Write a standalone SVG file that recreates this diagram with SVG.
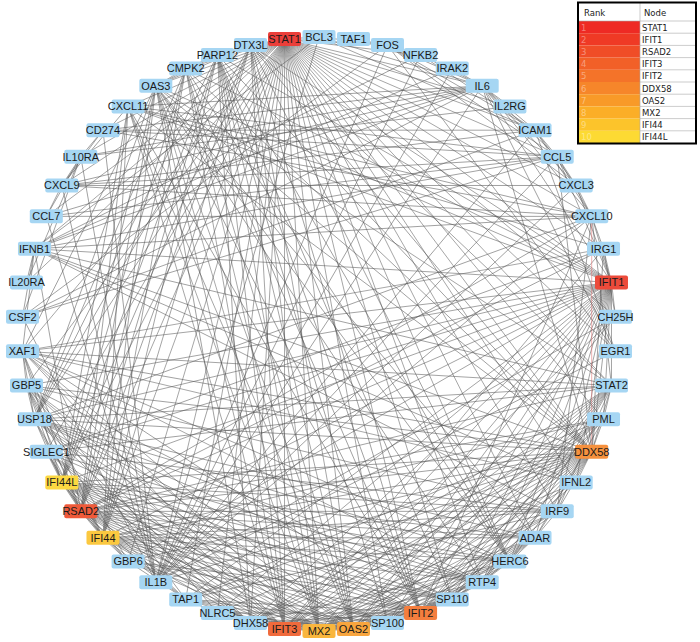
<svg xmlns="http://www.w3.org/2000/svg" width="700" height="642" viewBox="0 0 700 642">
<style>
.e{stroke:#555;stroke-width:.5;fill:none}
.n rect{fill:#a6d6f3}
.n text{font-family:"Liberation Sans",Arial,sans-serif;font-size:11px;fill:#1a1a1a;text-anchor:middle}
.lg text{font-family:"DejaVu Sans",Verdana,sans-serif;font-size:8.5px;fill:#222}
.lg .r{fill:#fff;fill-opacity:.4}
</style>
<defs>
<line id="c1" x1="297" y1="0" x2="295" y2="34.48"/>
<line id="c2" x1="297" y1="0" x2="289" y2="68.49"/>
<line id="c3" x1="297" y1="0" x2="279.09" y2="101.58"/>
<line id="c4" x1="297" y1="0" x2="265.41" y2="133.29"/>
<line id="c5" x1="297" y1="0" x2="248.14" y2="163.2"/>
<line id="c6" x1="297" y1="0" x2="227.51" y2="190.91"/>
<line id="c7" x1="297" y1="0" x2="203.81" y2="216.03"/>
<line id="c8" x1="297" y1="0" x2="177.36" y2="238.23"/>
<line id="c9" x1="297" y1="0" x2="148.5" y2="257.21"/>
<line id="c10" x1="297" y1="0" x2="117.64" y2="272.71"/>
<line id="c11" x1="297" y1="0" x2="85.18" y2="284.52"/>
<line id="c12" x1="297" y1="0" x2="51.57" y2="292.49"/>
<line id="c13" x1="297" y1="0" x2="17.27" y2="296.5"/>
<line id="c14" x1="297" y1="0" x2="-17.27" y2="296.5"/>
<line id="c15" x1="297" y1="0" x2="-51.57" y2="292.49"/>
<line id="c16" x1="297" y1="0" x2="-85.18" y2="284.52"/>
<line id="c17" x1="297" y1="0" x2="-117.64" y2="272.71"/>
<line id="c18" x1="297" y1="0" x2="-148.5" y2="257.21"/>
<line id="c19" x1="297" y1="0" x2="-177.36" y2="238.23"/>
<line id="c20" x1="297" y1="0" x2="-203.81" y2="216.03"/>
<line id="c21" x1="297" y1="0" x2="-227.51" y2="190.91"/>
<line id="c22" x1="297" y1="0" x2="-248.14" y2="163.2"/>
<line id="c23" x1="297" y1="0" x2="-265.41" y2="133.29"/>
<line id="c24" x1="297" y1="0" x2="-279.09" y2="101.58"/>
<line id="c25" x1="297" y1="0" x2="-289" y2="68.49"/>
<line id="c26" x1="297" y1="0" x2="-295" y2="34.48"/>
<line id="c27" x1="297" y1="0" x2="-297" y2="0"/>
<line id="c28" x1="297" y1="0" x2="-295" y2="-34.48"/>
<line id="c29" x1="297" y1="0" x2="-289" y2="-68.49"/>
<line id="c30" x1="297" y1="0" x2="-279.09" y2="-101.58"/>
<line id="c31" x1="297" y1="0" x2="-265.41" y2="-133.29"/>
<line id="c32" x1="297" y1="0" x2="-248.14" y2="-163.2"/>
<line id="c33" x1="297" y1="0" x2="-227.51" y2="-190.91"/>
<line id="c34" x1="297" y1="0" x2="-203.81" y2="-216.03"/>
<line id="c35" x1="297" y1="0" x2="-177.36" y2="-238.23"/>
<line id="c36" x1="297" y1="0" x2="-148.5" y2="-257.21"/>
<line id="c37" x1="297" y1="0" x2="-117.64" y2="-272.71"/>
<line id="c38" x1="297" y1="0" x2="-85.18" y2="-284.52"/>
<line id="c39" x1="297" y1="0" x2="-51.57" y2="-292.49"/>
<line id="c40" x1="297" y1="0" x2="-17.27" y2="-296.5"/>
<line id="c41" x1="297" y1="0" x2="17.27" y2="-296.5"/>
<line id="c42" x1="297" y1="0" x2="51.57" y2="-292.49"/>
<line id="c43" x1="297" y1="0" x2="85.18" y2="-284.52"/>
<line id="c44" x1="297" y1="0" x2="117.64" y2="-272.71"/>
<line id="c45" x1="297" y1="0" x2="148.5" y2="-257.21"/>
<line id="c46" x1="297" y1="0" x2="177.36" y2="-238.23"/>
<line id="c47" x1="297" y1="0" x2="203.81" y2="-216.03"/>
<line id="c48" x1="297" y1="0" x2="227.51" y2="-190.91"/>
<line id="c49" x1="297" y1="0" x2="248.14" y2="-163.2"/>
<line id="c50" x1="297" y1="0" x2="265.41" y2="-133.29"/>
<line id="c51" x1="297" y1="0" x2="279.09" y2="-101.58"/>
<line id="c52" x1="297" y1="0" x2="289" y2="-68.49"/>
<line id="c53" x1="297" y1="0" x2="295" y2="-34.48"/>
</defs>
<rect width="700" height="642" fill="#fff"/>
<g id="edges" class="e">
<g transform="translate(319 334) rotate(-96.67)"><use href="#c1"/><use href="#c3"/><use href="#c4"/><use href="#c6"/><use href="#c7"/><use href="#c8"/><use href="#c9"/><use href="#c10"/><use href="#c11"/><use href="#c12"/><use href="#c13"/><use href="#c14"/><use href="#c15"/><use href="#c16"/><use href="#c17"/><use href="#c18"/><use href="#c19"/><use href="#c20"/><use href="#c21"/><use href="#c22"/><use href="#c23"/><use href="#c24"/><use href="#c25"/><use href="#c26"/><use href="#c27"/><use href="#c28"/><use href="#c29"/><use href="#c30"/><use href="#c31"/><use href="#c32"/><use href="#c33"/><use href="#c34"/><use href="#c35"/><use href="#c36"/><use href="#c37"/><use href="#c38"/><use href="#c39"/><use href="#c40"/><use href="#c41"/><use href="#c43"/><use href="#c44"/><use href="#c45"/><use href="#c46"/><use href="#c47"/><use href="#c48"/><use href="#c49"/><use href="#c50"/><use href="#c51"/><use href="#c52"/><use href="#c53"/></g>
<g transform="translate(319 334) rotate(-10)"><use href="#c52"/><use href="#c53"/><use href="#c1"/><use href="#c3"/><use href="#c4"/><use href="#c5"/><use href="#c6"/><use href="#c7"/><use href="#c8"/><use href="#c9"/><use href="#c10"/><use href="#c11"/><use href="#c12"/><use href="#c13"/><use href="#c14"/><use href="#c15"/><use href="#c16"/><use href="#c17"/><use href="#c18"/><use href="#c19"/><use href="#c21"/><use href="#c22"/><use href="#c23"/><use href="#c24"/><use href="#c25"/><use href="#c26"/><use href="#c27"/><use href="#c28"/><use href="#c31"/><use href="#c36"/><use href="#c37"/><use href="#c38"/><use href="#c39"/><use href="#c40"/><use href="#c47"/><use href="#c50"/><use href="#c51"/></g>
<g transform="translate(319 334) rotate(143.33)"><use href="#c29"/><use href="#c30"/><use href="#c34"/><use href="#c35"/><use href="#c36"/><use href="#c38"/><use href="#c39"/><use href="#c40"/><use href="#c41"/><use href="#c42"/><use href="#c43"/><use href="#c44"/><use href="#c45"/><use href="#c46"/><use href="#c47"/><use href="#c48"/><use href="#c50"/><use href="#c52"/><use href="#c53"/><use href="#c1"/><use href="#c2"/><use href="#c3"/><use href="#c4"/><use href="#c5"/><use href="#c8"/><use href="#c13"/><use href="#c14"/><use href="#c15"/><use href="#c16"/><use href="#c17"/></g>
<g transform="translate(319 334) rotate(96.67)"><use href="#c37"/><use href="#c39"/><use href="#c41"/><use href="#c42"/><use href="#c43"/><use href="#c45"/><use href="#c46"/><use href="#c47"/><use href="#c48"/><use href="#c49"/><use href="#c50"/><use href="#c51"/><use href="#c52"/><use href="#c53"/><use href="#c1"/><use href="#c2"/><use href="#c3"/><use href="#c5"/><use href="#c6"/><use href="#c8"/><use href="#c9"/><use href="#c10"/><use href="#c11"/><use href="#c12"/><use href="#c20"/><use href="#c21"/><use href="#c22"/><use href="#c23"/><use href="#c24"/></g>
<g transform="translate(319 334) rotate(70)"><use href="#c40"/><use href="#c45"/><use href="#c46"/><use href="#c47"/><use href="#c48"/><use href="#c49"/><use href="#c50"/><use href="#c51"/><use href="#c52"/><use href="#c53"/><use href="#c1"/><use href="#c2"/><use href="#c3"/><use href="#c5"/><use href="#c6"/><use href="#c7"/><use href="#c9"/><use href="#c10"/><use href="#c12"/><use href="#c13"/><use href="#c14"/><use href="#c16"/><use href="#c24"/><use href="#c25"/><use href="#c26"/><use href="#c27"/><use href="#c28"/></g>
<g transform="translate(319 334) rotate(23.33)"><use href="#c47" stroke="#e07070"/><use href="#c48"/><use href="#c52"/><use href="#c53"/><use href="#c1"/><use href="#c2"/><use href="#c3"/><use href="#c4"/><use href="#c5"/><use href="#c6"/><use href="#c8"/><use href="#c9"/><use href="#c10"/><use href="#c12"/><use href="#c13"/><use href="#c14"/><use href="#c16"/><use href="#c17"/><use href="#c19"/><use href="#c21"/><use href="#c22"/><use href="#c23"/><use href="#c26"/><use href="#c31"/><use href="#c32"/><use href="#c33"/><use href="#c34"/><use href="#c35"/><use href="#c42"/><use href="#c15"/><use href="#c45"/></g>
<g transform="translate(319 334) rotate(83.33)"><use href="#c41"/><use href="#c43"/><use href="#c44"/><use href="#c47"/><use href="#c48"/><use href="#c49"/><use href="#c50"/><use href="#c51"/><use href="#c53"/><use href="#c1"/><use href="#c3"/><use href="#c4"/><use href="#c5"/><use href="#c7"/><use href="#c8"/><use href="#c10"/><use href="#c12"/><use href="#c13"/><use href="#c14"/><use href="#c22"/><use href="#c23"/><use href="#c24"/><use href="#c25"/><use href="#c26"/></g>
<g transform="translate(319 334) rotate(90)"><use href="#c42"/><use href="#c43"/><use href="#c45"/><use href="#c46"/><use href="#c47"/><use href="#c48"/><use href="#c49"/><use href="#c50"/><use href="#c52"/><use href="#c2"/><use href="#c4"/><use href="#c6"/><use href="#c7"/><use href="#c9"/><use href="#c10"/><use href="#c11"/><use href="#c12"/><use href="#c13"/><use href="#c21"/><use href="#c22"/><use href="#c23"/><use href="#c24"/><use href="#c25"/></g>
<g transform="translate(319 334) rotate(136.67)"><use href="#c36"/><use href="#c39"/><use href="#c40"/><use href="#c41"/><use href="#c42"/><use href="#c43"/><use href="#c45"/><use href="#c49"/><use href="#c51"/><use href="#c53"/><use href="#c2"/><use href="#c3"/><use href="#c4"/><use href="#c5"/><use href="#c6"/><use href="#c14"/><use href="#c15"/><use href="#c16"/><use href="#c17"/><use href="#c18"/></g>
<g transform="translate(319 334) rotate(150)"><use href="#c37"/><use href="#c38"/><use href="#c39"/><use href="#c40"/><use href="#c41"/><use href="#c43"/><use href="#c47"/><use href="#c49"/><use href="#c51"/><use href="#c1"/><use href="#c2"/><use href="#c3"/><use href="#c4"/><use href="#c12"/><use href="#c13"/><use href="#c14"/><use href="#c15"/><use href="#c16"/></g>
<g transform="translate(319 334) rotate(-56.67)"><use href="#c49"/><use href="#c51"/><use href="#c52"/><use href="#c1"/><use href="#c2"/><use href="#c3"/><use href="#c4"/><use href="#c5"/><use href="#c9"/><use href="#c27"/><use href="#c36"/><use href="#c39"/><use href="#c40"/><use href="#c41"/><use href="#c42"/><use href="#c38"/><use href="#c53"/><use href="#c43"/></g>
<g transform="translate(319 334) rotate(123.33)"><use href="#c22"/><use href="#c24"/><use href="#c25"/><use href="#c29"/><use href="#c30"/><use href="#c31"/><use href="#c32"/><use href="#c36"/><use href="#c9"/><use href="#c12"/><use href="#c13"/><use href="#c14"/><use href="#c15"/><use href="#c26"/><use href="#c35"/></g>
<g transform="translate(319 334) rotate(-36.67)"><use href="#c53"/><use href="#c1"/><use href="#c2"/><use href="#c36"/><use href="#c37"/><use href="#c40"/><use href="#c39"/><use href="#c35"/><use href="#c33"/><use href="#c48"/></g>
<g transform="translate(319 334) rotate(-23.33)"><use href="#c35"/><use href="#c38"/><use href="#c34"/><use href="#c37"/><use href="#c33"/><use href="#c53"/><use href="#c51"/><use href="#c1"/><use href="#c5"/><use href="#c9"/><use href="#c28"/></g>
<g transform="translate(319 334) rotate(210)"><use href="#c3"/><use href="#c2"/><use href="#c53"/><use href="#c18"/><use href="#c16"/><use href="#c1"/></g>
<g transform="translate(319 334) rotate(196.67)"><use href="#c26"/><use href="#c30"/><use href="#c29"/><use href="#c11"/><use href="#c14"/><use href="#c15"/><use href="#c53"/><use href="#c51"/><use href="#c52"/></g>
<g transform="translate(319 334) rotate(-43.33)"><use href="#c2"/><use href="#c7"/><use href="#c49"/><use href="#c50"/><use href="#c47"/><use href="#c40"/><use href="#c34"/></g>
<g transform="translate(319 334) rotate(-76.67)"><use href="#c12"/><use href="#c52"/><use href="#c1"/><use href="#c53"/><use href="#c7"/><use href="#c39"/></g>
<g transform="translate(319 334) rotate(216.67)"><use href="#c50"/><use href="#c14"/><use href="#c1"/><use href="#c49"/><use href="#c52"/></g>
<g transform="translate(319 334) rotate(10)"><use href="#c4"/><use href="#c1"/><use href="#c23"/><use href="#c6"/><use href="#c7"/><use href="#c8"/><use href="#c10"/><use href="#c14"/><use href="#c25"/><use href="#c34"/><use href="#c37"/></g>
<g transform="translate(319 334) rotate(163.33)"><use href="#c11"/><use href="#c12"/><use href="#c13"/><use href="#c14"/><use href="#c2"/><use href="#c1"/><use href="#c37"/><use href="#c38"/><use href="#c45"/><use href="#c39"/><use href="#c36"/></g>
<g transform="translate(319 334) rotate(236.67)"><use href="#c1"/><use href="#c2"/><use href="#c3"/><use href="#c26"/><use href="#c27"/><use href="#c25"/><use href="#c34"/><use href="#c45"/></g>
<g transform="translate(319 334) rotate(250)"><use href="#c1"/><use href="#c53"/><use href="#c24"/><use href="#c26"/><use href="#c28"/><use href="#c32"/></g>
<g transform="translate(319 334) rotate(43.33)"><use href="#c1"/><use href="#c2"/><use href="#c3"/><use href="#c5"/><use href="#c53"/><use href="#c50"/></g>
<g transform="translate(319 334) rotate(50)"><use href="#c1"/><use href="#c2"/><use href="#c8"/><use href="#c19"/><use href="#c29"/><use href="#c31"/></g>
<g transform="translate(319 334) rotate(63.33)"><use href="#c2"/><use href="#c47"/><use href="#c53"/><use href="#c16"/><use href="#c10"/></g>
<g transform="translate(319 334) rotate(116.67)"><use href="#c53"/><use href="#c2"/><use href="#c8"/><use href="#c39"/><use href="#c42"/><use href="#c48"/></g>
<g transform="translate(319 334) rotate(176.67)"><use href="#c53"/><use href="#c36"/><use href="#c25"/><use href="#c32"/></g>
<g transform="translate(319 334) rotate(-16.67)"><use href="#c2"/><use href="#c37"/><use href="#c26"/></g>
<g transform="translate(319 334) rotate(170)"><use href="#c48"/><use href="#c45"/><use href="#c34"/></g>
<g transform="translate(319 334) rotate(156.67)"><use href="#c36"/><use href="#c39"/><use href="#c32"/><use href="#c46"/></g>
<g transform="translate(319 334) rotate(103.33)"><use href="#c1"/><use href="#c43"/><use href="#c41"/></g>
</g>
<g id="nodes">
<g id="n-STAT1" class="n" transform="translate(284.52 39)"><rect x="-16.5" y="-7" width="33" height="14" rx="2" style="fill:#eb3f3a"/><text y="3.9">STAT1</text></g>
<g id="n-BCL3" class="n" transform="translate(319 37)"><rect x="-16.5" y="-7" width="33" height="14" rx="2"/><text y="3.9">BCL3</text></g>
<g id="n-TAF1" class="n" transform="translate(353.48 39)"><rect x="-16.5" y="-7" width="33" height="14" rx="2"/><text y="3.9">TAF1</text></g>
<g id="n-FOS" class="n" transform="translate(387.49 45)"><rect x="-16.5" y="-7" width="33" height="14" rx="2"/><text y="3.9">FOS</text></g>
<g id="n-NFKB2" class="n" transform="translate(420.58 54.91)"><rect x="-16.5" y="-7" width="33" height="14" rx="2"/><text y="3.9">NFKB2</text></g>
<g id="n-IRAK2" class="n" transform="translate(452.29 68.59)"><rect x="-16.5" y="-7" width="33" height="14" rx="2"/><text y="3.9">IRAK2</text></g>
<g id="n-IL6" class="n" transform="translate(482.2 85.86)"><rect x="-16.5" y="-7" width="33" height="14" rx="2"/><text y="3.9">IL6</text></g>
<g id="n-IL2RG" class="n" transform="translate(509.91 106.49)"><rect x="-16.5" y="-7" width="33" height="14" rx="2"/><text y="3.9">IL2RG</text></g>
<g id="n-ICAM1" class="n" transform="translate(535.03 130.19)"><rect x="-16.5" y="-7" width="33" height="14" rx="2"/><text y="3.9">ICAM1</text></g>
<g id="n-CCL5" class="n" transform="translate(557.23 156.64)"><rect x="-16.5" y="-7" width="33" height="14" rx="2"/><text y="3.9">CCL5</text></g>
<g id="n-CXCL3" class="n" transform="translate(576.21 185.5)"><rect x="-16.5" y="-7" width="33" height="14" rx="2"/><text y="3.9">CXCL3</text></g>
<g id="n-CXCL10" class="n" transform="translate(591.71 216.36)"><rect x="-16.5" y="-7" width="33" height="14" rx="2"/><text y="3.9">CXCL10</text></g>
<g id="n-IRG1" class="n" transform="translate(603.52 248.82)"><rect x="-16.5" y="-7" width="33" height="14" rx="2"/><text y="3.9">IRG1</text></g>
<g id="n-IFIT1" class="n" transform="translate(611.49 282.43)"><rect x="-16.5" y="-7" width="33" height="14" rx="2" style="fill:#ec4a3a"/><text y="3.9">IFIT1</text></g>
<g id="n-CH25H" class="n" transform="translate(615.5 316.73)"><rect x="-16.5" y="-7" width="33" height="14" rx="2"/><text y="3.9">CH25H</text></g>
<g id="n-EGR1" class="n" transform="translate(615.5 351.27)"><rect x="-16.5" y="-7" width="33" height="14" rx="2"/><text y="3.9">EGR1</text></g>
<g id="n-STAT2" class="n" transform="translate(611.49 385.57)"><rect x="-16.5" y="-7" width="33" height="14" rx="2"/><text y="3.9">STAT2</text></g>
<g id="n-PML" class="n" transform="translate(603.52 419.18)"><rect x="-16.5" y="-7" width="33" height="14" rx="2"/><text y="3.9">PML</text></g>
<g id="n-DDX58" class="n" transform="translate(591.71 451.64)"><rect x="-16.5" y="-7" width="33" height="14" rx="2" style="fill:#f6913e"/><text y="3.9">DDX58</text></g>
<g id="n-IFNL2" class="n" transform="translate(576.21 482.5)"><rect x="-16.5" y="-7" width="33" height="14" rx="2"/><text y="3.9">IFNL2</text></g>
<g id="n-IRF9" class="n" transform="translate(557.23 511.36)"><rect x="-16.5" y="-7" width="33" height="14" rx="2"/><text y="3.9">IRF9</text></g>
<g id="n-ADAR" class="n" transform="translate(535.03 537.81)"><rect x="-16.5" y="-7" width="33" height="14" rx="2"/><text y="3.9">ADAR</text></g>
<g id="n-HERC6" class="n" transform="translate(509.91 561.51)"><rect x="-16.5" y="-7" width="33" height="14" rx="2"/><text y="3.9">HERC6</text></g>
<g id="n-RTP4" class="n" transform="translate(482.2 582.14)"><rect x="-16.5" y="-7" width="33" height="14" rx="2"/><text y="3.9">RTP4</text></g>
<g id="n-SP110" class="n" transform="translate(452.29 599.41)"><rect x="-16.5" y="-7" width="33" height="14" rx="2"/><text y="3.9">SP110</text></g>
<g id="n-IFIT2" class="n" transform="translate(420.58 613.09)"><rect x="-16.5" y="-7" width="33" height="14" rx="2" style="fill:#f47e3e"/><text y="3.9">IFIT2</text></g>
<g id="n-SP100" class="n" transform="translate(387.49 623)"><rect x="-16.5" y="-7" width="33" height="14" rx="2"/><text y="3.9">SP100</text></g>
<g id="n-OAS2" class="n" transform="translate(353.48 629)"><rect x="-16.5" y="-7" width="33" height="14" rx="2" style="fill:#f8a53e"/><text y="3.9">OAS2</text></g>
<g id="n-MX2" class="n" transform="translate(319 631)"><rect x="-16.5" y="-7" width="33" height="14" rx="2" style="fill:#f9b63e"/><text y="3.9">MX2</text></g>
<g id="n-IFIT3" class="n" transform="translate(284.52 629)"><rect x="-16.5" y="-7" width="33" height="14" rx="2" style="fill:#f06a3c"/><text y="3.9">IFIT3</text></g>
<g id="n-DHX58" class="n" transform="translate(250.51 623)"><rect x="-16.5" y="-7" width="33" height="14" rx="2"/><text y="3.9">DHX58</text></g>
<g id="n-NLRC5" class="n" transform="translate(217.42 613.09)"><rect x="-16.5" y="-7" width="33" height="14" rx="2"/><text y="3.9">NLRC5</text></g>
<g id="n-TAP1" class="n" transform="translate(185.71 599.41)"><rect x="-16.5" y="-7" width="33" height="14" rx="2"/><text y="3.9">TAP1</text></g>
<g id="n-IL1B" class="n" transform="translate(155.8 582.14)"><rect x="-16.5" y="-7" width="33" height="14" rx="2"/><text y="3.9">IL1B</text></g>
<g id="n-GBP6" class="n" transform="translate(128.09 561.51)"><rect x="-16.5" y="-7" width="33" height="14" rx="2"/><text y="3.9">GBP6</text></g>
<g id="n-IFI44" class="n" transform="translate(102.97 537.81)"><rect x="-16.5" y="-7" width="33" height="14" rx="2" style="fill:#fbc840"/><text y="3.9">IFI44</text></g>
<g id="n-RSAD2" class="n" transform="translate(80.77 511.36)"><rect x="-16.5" y="-7" width="33" height="14" rx="2" style="fill:#ef5a3a"/><text y="3.9">RSAD2</text></g>
<g id="n-IFI44L" class="n" transform="translate(61.79 482.5)"><rect x="-16.5" y="-7" width="33" height="14" rx="2" style="fill:#fcd842"/><text y="3.9">IFI44L</text></g>
<g id="n-SIGLEC1" class="n" transform="translate(46.29 451.64)"><rect x="-16.5" y="-7" width="33" height="14" rx="2"/><text y="3.9">SIGLEC1</text></g>
<g id="n-USP18" class="n" transform="translate(34.48 419.18)"><rect x="-16.5" y="-7" width="33" height="14" rx="2"/><text y="3.9">USP18</text></g>
<g id="n-GBP5" class="n" transform="translate(26.51 385.57)"><rect x="-16.5" y="-7" width="33" height="14" rx="2"/><text y="3.9">GBP5</text></g>
<g id="n-XAF1" class="n" transform="translate(22.5 351.27)"><rect x="-16.5" y="-7" width="33" height="14" rx="2"/><text y="3.9">XAF1</text></g>
<g id="n-CSF2" class="n" transform="translate(22.5 316.73)"><rect x="-16.5" y="-7" width="33" height="14" rx="2"/><text y="3.9">CSF2</text></g>
<g id="n-IL20RA" class="n" transform="translate(26.51 282.43)"><rect x="-16.5" y="-7" width="33" height="14" rx="2"/><text y="3.9">IL20RA</text></g>
<g id="n-IFNB1" class="n" transform="translate(34.48 248.82)"><rect x="-16.5" y="-7" width="33" height="14" rx="2"/><text y="3.9">IFNB1</text></g>
<g id="n-CCL7" class="n" transform="translate(46.29 216.36)"><rect x="-16.5" y="-7" width="33" height="14" rx="2"/><text y="3.9">CCL7</text></g>
<g id="n-CXCL9" class="n" transform="translate(61.79 185.5)"><rect x="-16.5" y="-7" width="33" height="14" rx="2"/><text y="3.9">CXCL9</text></g>
<g id="n-IL10RA" class="n" transform="translate(80.77 156.64)"><rect x="-16.5" y="-7" width="33" height="14" rx="2"/><text y="3.9">IL10RA</text></g>
<g id="n-CD274" class="n" transform="translate(102.97 130.19)"><rect x="-16.5" y="-7" width="33" height="14" rx="2"/><text y="3.9">CD274</text></g>
<g id="n-CXCL11" class="n" transform="translate(128.09 106.49)"><rect x="-16.5" y="-7" width="33" height="14" rx="2"/><text y="3.9">CXCL11</text></g>
<g id="n-OAS3" class="n" transform="translate(155.8 85.86)"><rect x="-16.5" y="-7" width="33" height="14" rx="2"/><text y="3.9">OAS3</text></g>
<g id="n-CMPK2" class="n" transform="translate(185.71 68.59)"><rect x="-16.5" y="-7" width="33" height="14" rx="2"/><text y="3.9">CMPK2</text></g>
<g id="n-PARP12" class="n" transform="translate(217.42 54.91)"><rect x="-16.5" y="-7" width="33" height="14" rx="2"/><text y="3.9">PARP12</text></g>
<g id="n-DTX3L" class="n" transform="translate(250.51 45)"><rect x="-16.5" y="-7" width="33" height="14" rx="2"/><text y="3.9">DTX3L</text></g>
</g>
<g id="legend" class="lg">
<rect x="578" y="2.5" width="118" height="141" fill="#fff"/>
<rect x="578.5" y="21" width="61.5" height="12.2" fill="#ee2a24"/>
<rect x="578.5" y="33.2" width="61.5" height="12.2" fill="#ef3a25"/>
<rect x="578.5" y="45.4" width="61.5" height="12.2" fill="#f04d27"/>
<rect x="578.5" y="57.6" width="61.5" height="12.2" fill="#f26028"/>
<rect x="578.5" y="69.8" width="61.5" height="12.2" fill="#f47329"/>
<rect x="578.5" y="82" width="61.5" height="12.2" fill="#f6862a"/>
<rect x="578.5" y="94.2" width="61.5" height="12.2" fill="#f89a28"/>
<rect x="578.5" y="106.4" width="61.5" height="12.2" fill="#fbae27"/>
<rect x="578.5" y="118.6" width="61.5" height="12.2" fill="#fcc42b"/>
<rect x="578.5" y="130.8" width="61.5" height="12.2" fill="#fdda33"/>
<path d="M640 3V143M578 21H696M640 33.2H696M640 45.4H696M640 57.6H696M640 69.8H696M640 82H696M640 94.2H696M640 106.4H696M640 118.6H696M640 130.8H696" stroke="#aaa" stroke-width="0.6" fill="none"/>
<rect x="578" y="2.5" width="118" height="141" fill="none" stroke="#000" stroke-width="2"/>
<text x="584" y="15.5">Rank</text><text x="644" y="15.5">Node</text>
<text class="r" x="581" y="30.5">1</text><text x="642" y="30.5">STAT1</text>
<text class="r" x="581" y="42.7">2</text><text x="642" y="42.7">IFIT1</text>
<text class="r" x="581" y="54.9">3</text><text x="642" y="54.9">RSAD2</text>
<text class="r" x="581" y="67.1">4</text><text x="642" y="67.1">IFIT3</text>
<text class="r" x="581" y="79.3">5</text><text x="642" y="79.3">IFIT2</text>
<text class="r" x="581" y="91.5">6</text><text x="642" y="91.5">DDX58</text>
<text class="r" x="581" y="103.7">7</text><text x="642" y="103.7">OAS2</text>
<text class="r" x="581" y="115.9">8</text><text x="642" y="115.9">MX2</text>
<text class="r" x="581" y="128.1">9</text><text x="642" y="128.1">IFI44</text>
<text class="r" x="581" y="140.3">10</text><text x="642" y="140.3">IFI44L</text>
</g>
</svg>
